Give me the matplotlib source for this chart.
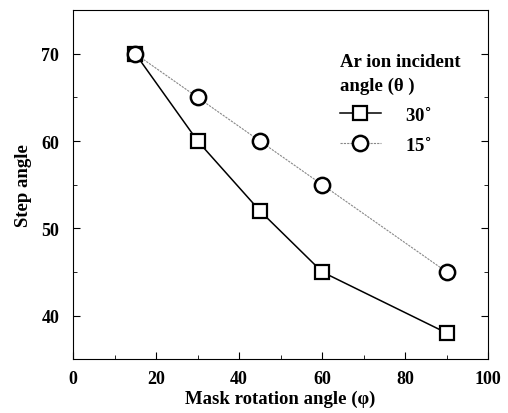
import matplotlib
matplotlib.use("Agg")
import matplotlib.pyplot as plt
from matplotlib.ticker import MultipleLocator

plt.rcParams['font.family'] = ['Liberation Serif', 'DejaVu Serif']
plt.rcParams['font.weight'] = 'bold'

rotation = [15, 30, 45, 60, 90]
step_30 = [70, 60, 52, 45, 38]
step_15 = [70, 65, 60, 55, 45]
labels = ['30$^{\\circ}$', '15$^{\\circ}$']

fig = plt.figure(figsize=(5.08, 4.14), dpi=100)
ax = fig.add_axes([0.144, 0.130, 0.817, 0.843])

ax.plot(rotation, step_30, color='black', lw=1.1, marker='s', ms=10,
        mfc='white', mec='black', mew=1.6, label=labels[0])
ax.plot(rotation, step_15, color='#888888', lw=0.8, ls=(0, (2, 1)), marker='o', ms=11,
        mfc='white', mec='black', mew=1.8, label=labels[1])

ax.set_xlim(0, 100)
ax.set_ylim(35, 75)
ax.xaxis.set_major_locator(MultipleLocator(20))
ax.xaxis.set_minor_locator(MultipleLocator(10))
ax.yaxis.set_major_locator(MultipleLocator(10))
ax.yaxis.set_minor_locator(MultipleLocator(5))
ax.tick_params(which='both', direction='in', right=True, top=False, labelsize=13)
ax.tick_params(which='major', length=5)
ax.tick_params(which='minor', length=3)
ax.tick_params(axis='x', which='major', pad=8)
ax.tick_params(axis='y', which='major', pad=10)
ax.set_yticks([40, 50, 60, 70])
ax.set_xlabel('Mask rotation angle (\u03c6)', fontsize=13.5, fontweight='bold', labelpad=2)
ax.set_ylabel('Step angle', fontsize=13.5, fontweight='bold', labelpad=7)

leg = ax.legend(title='Ar ion incident\nangle (\u03b8 )', loc='upper left',
                bbox_to_anchor=(0.62, 0.905), frameon=False, fontsize=13.5,
                title_fontproperties={'weight': 'bold', 'size': 13.5},
                borderpad=0, handlelength=2.2, handletextpad=1.3, labelspacing=0.65)
leg.get_title().set_linespacing(1.5)
leg._legend_box.align = 'left'

fig.savefig('out.png', dpi=100)
